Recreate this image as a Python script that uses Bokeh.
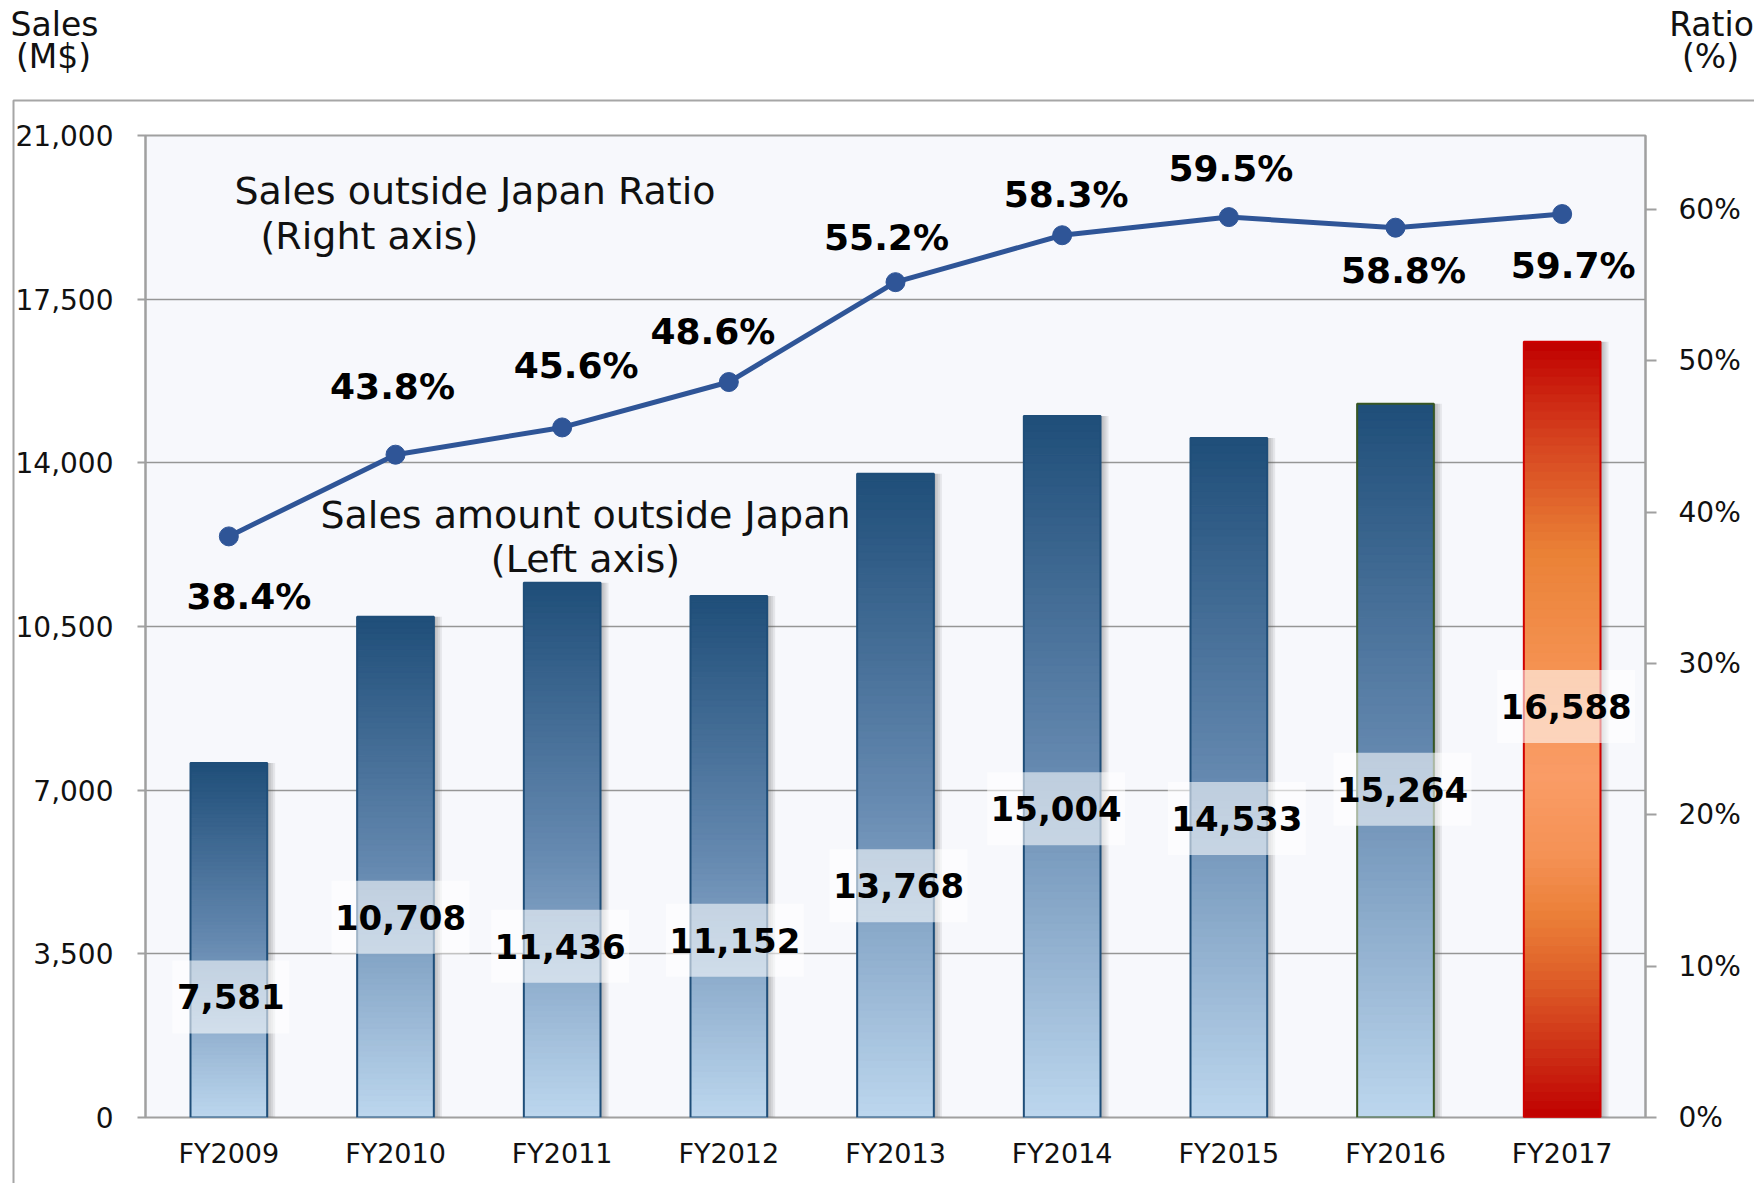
from bokeh.plotting import figure
from bokeh.models import (Range1d, FactorRange, LinearAxis, FixedTicker, NumeralTickFormatter,
                          PrintfTickFormatter, ColumnDataSource)
from bokeh.transform import dodge
from bokeh.core.properties import value
from bokeh.embed import file_html
from bokeh.resources import INLINE

# ---------------- data ----------------
years = ["FY2009", "FY2010", "FY2011", "FY2012", "FY2013", "FY2014", "FY2015", "FY2016", "FY2017"]
sales = [7581, 10708, 11436, 11152, 13768, 15004, 14533, 15264, 16588]
ratio = [38.4, 43.8, 45.6, 48.6, 55.2, 58.3, 59.5, 58.8, 59.7]
sales_ticks = [0, 3500, 7000, 10500, 14000, 17500, 21000]
ratio_ticks = [0, 10, 20, 30, 40, 50, 60]

# ---------------- layout (label placement) ----------------
value_label_frac = [0.34, 0.40, 0.32, 0.34, 0.36, 0.44, 0.44, 0.46, 0.53]
value_label_dx = [2, 5, -2, 6, 3, -6, 8, 7, 4]
pct_label_dx = [20, -3, 14, -16, -9, 4, 2, 8, 11]
pct_label_dy = [60, -68, -62, -51, -45, -41, -49, 43, 51]

W, H = 1754, 1183
FL, FR, FT, FB = 145, 1645, 135, 1117       # frame edges in page px
cat_px = (FR - FL) / len(years)
ratio_px = 151.33                            # px per 10 %

def px_x(px):
    """page pixel -> synthetic categorical coordinate"""
    return (px - FL) / cat_px

blue_stops = [(0.0, "#1F4E79"), (0.5, "#6589B0"), (1.0, "#BDD7EE")]
red_stops = [(0.0, "#C00000"), (0.12, "#D5401E"), (0.27, "#EA8136"), (0.42, "#F59252"),
             (0.56, "#FA9C66"), (0.66, "#F59255"), (0.74, "#EB7F38"), (0.82, "#DE5E28"),
             (0.92, "#CC2C14"), (1.0, "#C00000")]
outline_colors = ["#1F4E79"] * 7 + ["#385723", "#D00000"]

def hex2rgb(h):
    h = h.lstrip("#")
    return tuple(int(h[i:i + 2], 16) for i in (0, 2, 4))

def grad(stops, t):
    for (t0, c0), (t1, c1) in zip(stops, stops[1:]):
        if t <= t1:
            f = (t - t0) / (t1 - t0) if t1 > t0 else 0
            a, b = hex2rgb(c0), hex2rgb(c1)
            return "#%02x%02x%02x" % tuple(round(a[k] + (b[k] - a[k]) * f) for k in range(3))
    return stops[-1][1]

# ---------------- figure ----------------
p = figure(width=W, height=H, x_range=FactorRange(factors=years, range_padding=0),
           y_range=Range1d(0, sales_ticks[-1]), output_backend="svg", toolbar_location=None,
           min_border_left=FL, min_border_right=W - FR, min_border_top=FT,
           min_border_bottom=H - FB)
p.extra_y_ranges = {"ratio": Range1d(0, 10 * (FB - FT) / ratio_px),
                    "py": Range1d(FB, FT)}
p.background_fill_color = "#F7F8FC"
p.border_fill_color = "white"
p.outline_line_color = "#A0A0A0"
p.outline_line_width = 2

p.xgrid.grid_line_color = None
p.ygrid.grid_line_color = "#969696"
p.ygrid.grid_line_width = 1.5

font = "DejaVu Sans"
p.yaxis.ticker = FixedTicker(ticks=sales_ticks)
p.yaxis.formatter = NumeralTickFormatter(format="0,0")
p.yaxis.major_label_text_font = font
p.yaxis.major_label_text_font_size = "28px"
p.yaxis.major_label_text_color = "#111111"
p.yaxis.major_tick_out = 8
p.yaxis.major_tick_in = 0
p.yaxis.minor_tick_line_color = None
p.yaxis.axis_line_color = "#A0A0A0"
p.yaxis.axis_line_width = 2
p.yaxis.major_tick_line_color = "#A0A0A0"
p.yaxis.major_tick_line_width = 2
p.yaxis.major_label_standoff = 24

p.xaxis.major_label_text_font = font
p.xaxis.major_label_text_font_size = "27px"
p.xaxis.major_label_text_color = "#111111"
p.xaxis.major_tick_line_color = None
p.xaxis.axis_line_color = None
p.xaxis.major_label_standoff = 14

ax_r = LinearAxis(y_range_name="ratio", ticker=FixedTicker(ticks=ratio_ticks),
                  formatter=PrintfTickFormatter(format="%d%%"))
ax_r.major_label_text_font = font
ax_r.major_label_text_font_size = "28px"
ax_r.major_label_text_color = "#111111"
ax_r.major_tick_out = 11
ax_r.major_tick_in = 0
ax_r.minor_tick_line_color = None
ax_r.axis_line_color = "#A0A0A0"
ax_r.axis_line_width = 2
ax_r.major_tick_line_color = "#A0A0A0"
ax_r.major_tick_line_width = 2
ax_r.major_label_standoff = 22
p.add_layout(ax_r, "right")

# ---------------- bars ----------------
BW = 0.46
shadow = ColumnDataSource(dict(x=years, top=sales))
for dx in [0.012, 0.024, 0.036, 0.048]:
    p.vbar(x=dodge("x", dx, range=p.x_range), top="top", width=BW, source=shadow,
           fill_color="#505050", fill_alpha=0.1, line_color=None)

N = 90
gx, gb, gt, gc = [], [], [], []
for i, (yr, v) in enumerate(zip(years, sales)):
    stops = red_stops if i == len(years) - 1 else blue_stops
    for k in range(N):
        gx.append(yr)
        gb.append(v * k / N)
        gt.append(v * (k + 1) / N)
        gc.append(grad(stops, 1 - (k + 0.5) / N))
gsrc = ColumnDataSource(dict(x=gx, bottom=gb, top=gt, color=gc))
p.vbar(x="x", bottom="bottom", top="top", width=BW, source=gsrc,
       fill_color="color", line_color="color", line_width=1)
p.vbar(x=years, top=sales, width=BW, fill_alpha=0, line_color=outline_colors, line_width=2)

# ---------------- value labels ----------------
vx = [i + 0.5 + dx / cat_px for i, dx in enumerate(value_label_dx)]
vy = [v * f for v, f in zip(sales, value_label_frac)]
vtext = ["{:,}".format(v) for v in sales]
vw = [21 * len(t) + 12 for t in vtext]
vsrc = ColumnDataSource(dict(x=vx, y=vy, text=vtext, w=vw))
p.rect(x="x", y="y", width="w", height=73, width_units="screen", height_units="screen",
       source=vsrc, fill_color="white", fill_alpha=0.58, line_color=None)
p.text(x="x", y="y", text="text", source=vsrc, text_font=value(font), text_font_style="bold",
       text_font_size="34px", text_align="center", text_baseline="middle", text_color="#000000")

# ---------------- ratio line ----------------
line_color = "#2F5597"
p.line(x=years, y=ratio, y_range_name="ratio", line_color=line_color, line_width=5)
p.scatter(x=years, y=ratio, y_range_name="ratio", size=19, fill_color=line_color,
          line_color=line_color)
psrc = ColumnDataSource(dict(x=years, y=ratio, text=["{:.1f}%".format(r) for r in ratio],
                             dx=pct_label_dx, dy=pct_label_dy))
p.text(x="x", y="y", text="text", x_offset="dx", y_offset="dy", source=psrc, y_range_name="ratio",
       text_font=value(font), text_font_style="bold", text_font_size="36px",
       text_align="center", text_baseline="middle", text_color="#000000")

# ---------------- annotations (page-pixel coordinates) ----------------
def add_text(px, py, text, size, align="left"):
    p.text(x=[px_x(px)], y=[py], text=[text], y_range_name="py", level="overlay",
           text_font=value(font), text_font_size=size, text_align=align,
           text_baseline="middle", text_color="#111111")

add_text(234, 190, "Sales outside Japan Ratio", "38px")
add_text(260, 235, "(Right axis)", "38px")
add_text(585, 514, "Sales amount outside Japan", "38px", "center")
add_text(585, 558, "(Left axis)", "38px", "center")
add_text(54, 24, "Sales", "33px", "center")
add_text(53, 56, "(M$)", "33px", "center")
add_text(1711, 24, "Ratio", "33px", "center")
add_text(1710, 56, "(%)", "33px", "center")

p.line(x=[px_x(13), px_x(13), px_x(3000)], y=[3000, 100, 100], y_range_name="py",
       level="overlay", line_color="#A6A6A6", line_width=2)

open("out.html", "w").write(file_html(p, INLINE))
